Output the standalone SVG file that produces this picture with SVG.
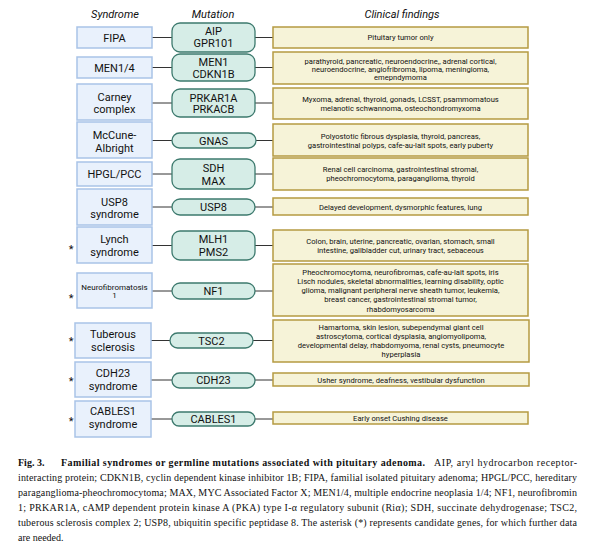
<svg xmlns="http://www.w3.org/2000/svg" width="594" height="550" viewBox="0 0 594 550">
<style>
.bg{fill:#ffffff}
.hdr{font-family:Roboto,"Liberation Sans",sans-serif;font-size:11px;font-style:italic;fill:#111;text-anchor:middle}
.syn rect{fill:#e9f1fc;stroke:#a9c3e7;stroke-width:1.5}
.syn text{font-family:Roboto,"Liberation Sans",sans-serif;font-size:11px;fill:#111;text-anchor:middle}
.syn text.sm{font-size:8px}
.mut rect{fill:#d6ede7;stroke:#3d7a6e;stroke-width:1.3}
.mut text{font-family:Roboto,"Liberation Sans",sans-serif;font-size:11px;fill:#111;text-anchor:middle}
.cli rect{fill:#f6f3d8;stroke:#b59a42;stroke-width:1.5}
.cli text{font-family:Roboto,"Liberation Sans",sans-serif;font-size:7.6px;fill:#111;text-anchor:middle}
.ast{font-family:Roboto,"Liberation Sans",sans-serif;font-size:11px;fill:#111;text-anchor:middle}
#connectors line{stroke:#333;stroke-width:1}
.cap{font-family:"Liberation Serif","Times New Roman",serif;font-size:10px;fill:#111}
.capb{font-family:"Liberation Serif","Times New Roman",serif;font-size:10px;font-weight:bold;fill:#111}
</style>
<rect class="bg" x="0" y="0" width="594" height="550"/>
<text class="hdr" x="115" y="18">Syndrome</text>
<text class="hdr" x="213" y="18">Mutation</text>
<text class="hdr" x="402" y="18">Clinical findings</text>

<g id="connectors">
<line x1="152" y1="37.5" x2="172" y2="37.5"/><line x1="255" y1="37.5" x2="273" y2="37.5"/>
<line x1="152" y1="67.5" x2="172" y2="67.5"/><line x1="255" y1="67.5" x2="273" y2="67.5"/>
<line x1="152" y1="103" x2="172" y2="103"/><line x1="255" y1="103" x2="273" y2="103"/>
<line x1="152" y1="140.5" x2="172" y2="140.5"/><line x1="255" y1="140.5" x2="273" y2="140.5"/>
<line x1="152" y1="174" x2="172" y2="174"/><line x1="255" y1="174" x2="273" y2="174"/>
<line x1="152" y1="207" x2="172" y2="207"/><line x1="255" y1="207" x2="273" y2="207"/>
<line x1="152" y1="245.5" x2="172" y2="245.5"/><line x1="255" y1="245.5" x2="273" y2="245.5"/>
<line x1="152" y1="291" x2="172" y2="291"/><line x1="255" y1="291" x2="273" y2="291"/>
<line x1="151" y1="340.5" x2="170" y2="340.5"/><line x1="253" y1="340.5" x2="273" y2="340.5"/>
<line x1="151" y1="380" x2="172" y2="380"/><line x1="255" y1="380" x2="273" y2="380"/>
<line x1="151" y1="419" x2="172" y2="419"/><line x1="255" y1="419" x2="273" y2="419"/>
</g>

<!-- Row 1 -->
<g id="syn-fipa" class="syn"><rect x="77" y="27" width="75" height="21"/><text x="114.5" y="41.5">FIPA</text></g>
<g id="mut-aip" class="mut"><rect x="172" y="23" width="83" height="29" rx="8"/><text x="213.5" y="35">AIP</text><text x="213.5" y="47">GPR101</text></g>
<g id="cli-fipa" class="cli"><rect x="273" y="27" width="255" height="21"/><text x="400.5" y="40">Pituitary tumor only</text></g>

<!-- Row 2 -->
<g id="syn-men" class="syn"><rect x="77" y="57" width="75" height="21"/><text x="114.5" y="71.5">MEN1/4</text></g>
<g id="mut-men" class="mut"><rect x="172" y="54" width="83" height="27" rx="8"/><text x="213.5" y="66">MEN1</text><text x="213.5" y="78">CDKN1B</text></g>
<g id="cli-men" class="cli"><rect x="273" y="52" width="255" height="32"/><text x="400.5" y="63.7">parathyroid, pancreatic, neuroendocrine,, adrenal cortical,</text><text x="400.5" y="71.7">neuroendocrine, angiofribroma, lipoma, meningioma,</text><text x="400.5" y="79.7">emepndymoma</text></g>

<!-- Row 3 -->
<g id="syn-carney" class="syn"><rect x="77" y="84" width="75" height="36"/><text x="114.5" y="101">Carney</text><text x="114.5" y="113">complex</text></g>
<g id="mut-prkar" class="mut"><rect x="172" y="89" width="83" height="28" rx="8"/><text x="213.5" y="101.5">PRKAR1A</text><text x="213.5" y="113">PRKACB</text></g>
<g id="cli-carney" class="cli"><rect x="273" y="88" width="255" height="31"/><text x="400.5" y="101.7">Myxoma, adrenal, thyroid, gonads, LCSST, psammomatous</text><text x="400.5" y="110.7">melanotic schwannoma, osteochondromyxoma</text></g>

<!-- Row 4 -->
<g id="syn-mccune" class="syn"><rect x="77" y="122" width="75" height="36"/><text x="114.5" y="139">McCune-</text><text x="114.5" y="152">Albright</text></g>
<g id="mut-gnas" class="mut"><rect x="172" y="133" width="84" height="15" rx="7.5"/><text x="213.5" y="144.5">GNAS</text></g>
<g id="cli-mccune" class="cli"><rect x="273" y="124" width="255" height="32"/><text x="400.5" y="138.7">Polyostotic fibrous dysplasia, thyroid, pancreas,</text><text x="400.5" y="147.7">gastrointestinal polyps, cafe-au-lait spots, early puberty</text></g>

<!-- Row 5 -->
<g id="syn-hpgl" class="syn"><rect x="77" y="162" width="75" height="24"/><text x="114.5" y="178">HPGL/PCC</text></g>
<g id="mut-sdh" class="mut"><rect x="172" y="159" width="83" height="30" rx="8"/><text x="213.5" y="172">SDH</text><text x="213.5" y="185">MAX</text></g>
<g id="cli-hpgl" class="cli"><rect x="273" y="158" width="255" height="32"/><text x="400.5" y="171.7">Renal cell carcinoma, gastrointestinal stromal,</text><text x="400.5" y="180.7">pheochromocytoma, paraganglioma, thyroid</text></g>

<!-- Row 6 -->
<g id="syn-usp8" class="syn"><rect x="77" y="189" width="75" height="36"/><text x="114.5" y="206">USP8</text><text x="114.5" y="218">syndrome</text></g>
<g id="mut-usp8" class="mut"><rect x="172" y="199" width="83" height="16" rx="8"/><text x="213.5" y="211">USP8</text></g>
<g id="cli-usp8" class="cli"><rect x="273" y="198" width="255" height="17"/><text x="400.5" y="209.7">Delayed development, dysmorphic features, lung</text></g>

<!-- Row 7 -->
<text class="ast" x="71" y="253">*</text>
<g id="syn-lynch" class="syn"><rect x="77" y="227" width="75" height="36"/><text x="114.5" y="243">Lynch</text><text x="114.5" y="256">syndrome</text></g>
<g id="mut-mlh1" class="mut"><rect x="172" y="231" width="83" height="29" rx="8"/><text x="213.5" y="243">MLH1</text><text x="213.5" y="256">PMS2</text></g>
<g id="cli-lynch" class="cli"><rect x="273" y="230" width="255" height="31"/><text x="400.5" y="243.7">Colon, brain, uterine, pancreatic, ovarian, stomach, small</text><text x="400.5" y="252.7">intestine, gallbladder cut, urinary tract, sebaceous</text></g>

<!-- Row 8 -->
<text class="ast" x="71" y="302">*</text>
<g id="syn-nf" class="syn"><rect x="77" y="273" width="75" height="35"/><text class="sm" x="114.5" y="290">Neurofibromatosis</text><text class="sm" x="114.5" y="298">1</text></g>
<g id="mut-nf1" class="mut"><rect x="172" y="283" width="83" height="16" rx="8"/><text x="213.5" y="295">NF1</text></g>
<g id="cli-nf" class="cli"><rect x="273" y="264" width="255" height="52"/><text x="400.5" y="274.7">Pheochromocytoma, neurofibromas, cafe-au-lait spots, iris</text><text x="400.5" y="283.9">Lisch nodules, skeletal abnormalities, learning disability, optic</text><text x="400.5" y="293.1">glioma, malignant peripheral nerve sheath tumor, leukemia,</text><text x="400.5" y="302.3">breast cancer, gastrointestinal stromal tumor,</text><text x="400.5" y="311.5">rhabdomyosarcoma</text></g>

<!-- Row 9 -->
<text class="ast" x="71" y="345">*</text>
<g id="syn-tsc" class="syn"><rect x="75" y="323" width="76" height="35"/><text x="113" y="338">Tuberous</text><text x="113" y="351">sclerosis</text></g>
<g id="mut-tsc2" class="mut"><rect x="170" y="333" width="83" height="15" rx="7.5"/><text x="211.5" y="344.5">TSC2</text></g>
<g id="cli-tsc" class="cli"><rect x="273" y="320" width="256" height="42"/><text x="401" y="329.7">Hamartoma, skin lesion, subependymal giant cell</text><text x="401" y="338.7">astroscytoma, cortical dysplasia, angiomyolipoma,</text><text x="401" y="347.7">developmental delay, rhabdomyoma, renal cysts, pneumocyte</text><text x="401" y="356.7">hyperplasia</text></g>

<!-- Row 10 -->
<text class="ast" x="71" y="385">*</text>
<g id="syn-cdh23" class="syn"><rect x="75" y="362" width="76" height="35"/><text x="113" y="377">CDH23</text><text x="113" y="390">syndrome</text></g>
<g id="mut-cdh23" class="mut"><rect x="172" y="373" width="83" height="15" rx="7.5"/><text x="213.5" y="384">CDH23</text></g>
<g id="cli-cdh23" class="cli"><rect x="273" y="373" width="256" height="13"/><text x="401" y="382.7">Usher syndrome, deafness, vestibular dysfunction</text></g>

<!-- Row 11 -->
<text class="ast" x="71" y="425">*</text>
<g id="syn-cables" class="syn"><rect x="75" y="401" width="76" height="36"/><text x="113" y="415">CABLES1</text><text x="113" y="428">syndrome</text></g>
<g id="mut-cables" class="mut"><rect x="172" y="412" width="83" height="14" rx="7"/><text x="213.5" y="423">CABLES1</text></g>
<g id="cli-cables" class="cli"><rect x="273" y="412" width="255" height="12"/><text x="400.5" y="420.7">Early onset Cushing disease</text></g>

<!-- Caption -->
<text class="capb" x="18" y="466">Fig. 3.</text>
<text class="capb" x="61" y="466" textLength="364" lengthAdjust="spacing">Familial syndromes or germline mutations associated with pituitary adenoma.</text>
<text class="cap" x="434" y="466" textLength="143" lengthAdjust="spacing">AIP, aryl hydrocarbon receptor-</text>
<text class="cap" x="18" y="481" textLength="559" lengthAdjust="spacing">interacting protein; CDKN1B, cyclin dependent kinase inhibitor 1B; FIPA, familial isolated pituitary adenoma; HPGL/PCC, hereditary</text>
<text class="cap" x="18" y="496" textLength="559" lengthAdjust="spacing">paraganglioma-pheochromocytoma; MAX, MYC Associated Factor X; MEN1/4, multiple endocrine neoplasia 1/4; NF1, neurofibromin</text>
<text class="cap" x="18" y="511" textLength="559" lengthAdjust="spacing">1; PRKAR1A, cAMP dependent protein kinase A (PKA) type I-α regulatory subunit (Riα); SDH, succinate dehydrogenase; TSC2,</text>
<text class="cap" x="18" y="526" textLength="559" lengthAdjust="spacing">tuberous sclerosis complex 2; USP8, ubiquitin specific peptidase 8. The asterisk (*) represents candidate genes, for which further data</text>
<text class="cap" x="18" y="541">are needed.</text>
</svg>
